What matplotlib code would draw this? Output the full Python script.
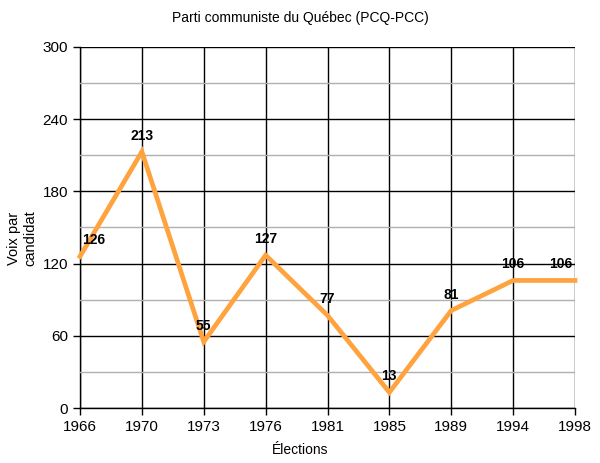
import matplotlib.pyplot as plt
import numpy as np

years = ["1966", "1970", "1973", "1976", "1981", "1985", "1989", "1994", "1998"]
votes = [126, 213, 55, 127, 77, 13, 81, 106, 106]

plt.rcParams['font.family'] = ['Liberation Sans', 'DejaVu Sans']

fig = plt.figure(figsize=(6, 4.63), dpi=100)
ax = fig.add_axes([80 / 600, 1 - 408 / 463, 495 / 600, 361 / 463])

x = np.arange(len(years))
ax.set_xlim(0, len(years) - 1)
ax.set_ylim(0, 300)
ax.set_yticks(range(0, 301, 60))
ax.set_yticks(range(30, 300, 60), minor=True)
ax.set_xticks(x)
ax.set_xticklabels(years)

ax.grid(True, which='major', axis='both', color='black', linewidth=1)
ax.grid(True, which='minor', axis='y', color='#b0b0b0', linewidth=1)
ax.tick_params(which='minor', length=0)
ax.tick_params(which='major', length=5, width=1, color='black', labelsize=11)
ax.set_axisbelow(True)

for side in ['top', 'right']:
    ax.spines[side].set_visible(False)
for side in ['left', 'bottom']:
    ax.spines[side].set_linewidth(1)
    ax.spines[side].set_zorder(0)

ax.plot(x, votes, color='#FFA33F', linewidth=3.4, solid_joinstyle='miter', clip_on=False, zorder=3)

# labels above each point, nudged inward at both ends
for i, v in enumerate(votes):
    dx = 0
    if i == 0:
        dx = 10
    elif i == len(votes) - 1:
        dx = -10
    ax.annotate(str(v), (x[i], v), xytext=(dx, 11.5), textcoords='offset points',
                ha='center', va='center', fontsize=10, fontweight='bold', zorder=4)

fig.text(0.5, 1 - 18 / 463, "Parti communiste du Québec (PCQ-PCC)", fontsize=10,
         ha='center', va='center')
fig.text(0.5, 1 - 450 / 463, "Élections", fontsize=10, ha='center', va='center')
fig.text(22 / 600, 1 - 238 / 463, "Voix par\ncandidat", fontsize=10.5, rotation=90,
         ha='center', va='center', multialignment='center')

fig.savefig("out.png", dpi=100)
